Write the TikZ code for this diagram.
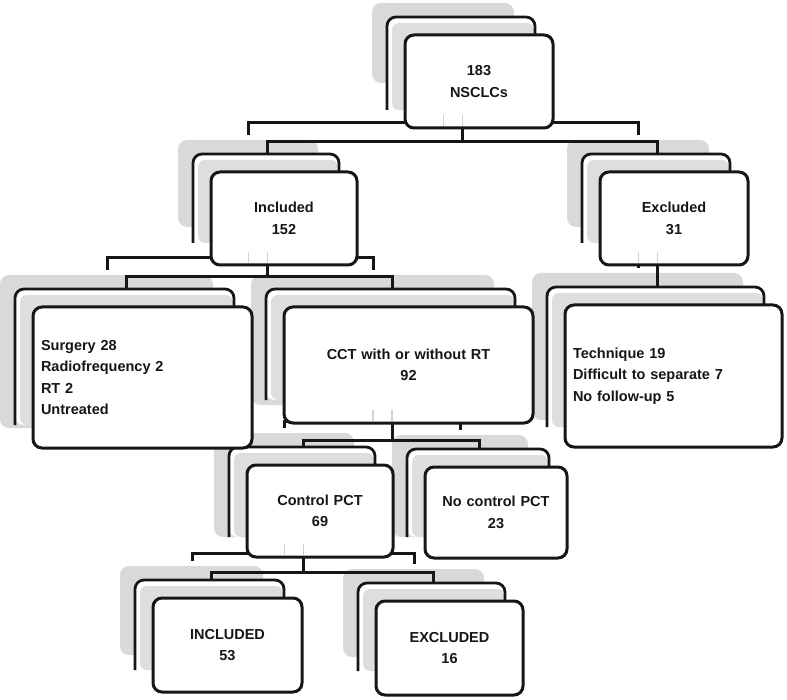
\documentclass[tikz,border=0pt]{standalone}
\usepackage{fontspec}
\setmainfont{Liberation Sans}
\usetikzlibrary{calc}
\pgfdeclarelayer{lay1}
\pgfdeclarelayer{lay2}
\pgfdeclarelayer{conn}
\pgfdeclarelayer{ticks}
\pgfsetlayers{lay1,lay2,conn,main,ticks}
\definecolor{gA}{HTML}{D9D9D9}
\definecolor{gB}{HTML}{DEDEDE}
\definecolor{ink}{HTML}{161616}
\definecolor{tickc}{HTML}{D2D2D2}
\tikzset{
  edge/.style={line width=3pt, draw=ink},
  midline/.style={line width=2.8pt, draw=ink, rounded corners=9pt},
  frontbox/.style={draw=ink, line width=3pt, fill=white, rounded corners=9pt,
    inner xsep=8pt, inner ysep=0pt, outer sep=0pt,
    font=\fontsize{14.5}{21.5}\selectfont\bfseries, text=ink},
  faint/.style={line width=1.6pt, draw=tickc},
}
% #1 name, #2 align, #3 x1, #4 y1, #5 x2, #6 y2, #7 gray bottom, #8 middle end, #9 text
\newcommand{\mystack}[9]{%
  \pgfmathsetmacro{\sw}{#5-#3-16}%
  \pgfmathsetmacro{\sh}{#6-#4}%
  \pgfmathsetmacro{\scx}{(#5+#3)/2}%
  \pgfmathsetmacro{\scy}{(#6+#4)/2}%
  \pgfmathsetmacro{\stc}{(#3-33+#5)/2}%
  \begin{pgfonlayer}{lay1}
    \fill[gA, rounded corners=9pt] (#3-33,#4-32) rectangle (#5-39,#7);
  \end{pgfonlayer}
  \begin{pgfonlayer}{lay2}
    \fill[white, rounded corners=9pt] (#3-18,#4-18) rectangle (#5-18,#8);
    \fill[gB, rounded corners=7pt] (#3-13,#4-12) rectangle (#5-19,#8);
    \draw[midline] (#3-18,#8) -- (#3-18,#4-18) -- (#5-18,#4-18) -- (#5-18,#4+5);
  \end{pgfonlayer}
  \node[frontbox, align=#2, text width=\sw pt, minimum height=\sh pt] (#1) at (\scx,\scy) {#9};
  \coordinate (#1-b) at (\stc,#6);
  \coordinate (#1-t) at (\stc,#4-18);
}
\begin{document}
\begin{tikzpicture}[x=1pt,y=-1pt]
\useasboundingbox (0,0) rectangle (787,700);

\mystack{top}{center}{405}{35}{553}{128}{83}{110}{183\\NSCLCs}
\mystack{inc}{center}{211}{172}{357}{265}{227}{243}{Included\\152}
\mystack{exc}{center}{600}{172}{748}{265}{227}{243}{Excluded\\31}
\mystack{sur}{left}{33}{307}{252}{448}{428}{425}{Surgery 28\\Radiofrequency 2\\RT 2\\Untreated}
\mystack{cct}{center}{284}{307}{533}{423}{405}{400}{CCT with or without RT\\92}
\mystack{tech}{left}{565}{305}{782}{447}{420}{427}{Technique 19\\Difficult to separate 7\\No follow-up 5}
\mystack{ctrl}{center}{247}{465}{393}{557}{537}{537}{Control PCT\\69}
\mystack{noc}{center}{425}{467}{567}{558}{537}{537}{No control PCT\\23}
\mystack{inca}{center}{153}{598}{302}{692}{655}{670}{INCLUDED\\53}
\mystack{exca}{center}{376}{601}{523}{695}{657}{671}{EXCLUDED\\16}

\begin{pgfonlayer}{conn}
  % back copies
  \draw[edge] ([xshift=-19pt,yshift=19pt]top-b) -- ++(0,14) -| ([xshift=-19pt,yshift=19pt]inc-t);
  \draw[edge] ([xshift=-19pt,yshift=19pt]top-b) -- ++(0,14) -| ([xshift=-19pt,yshift=19pt]exc-t);
  \draw[edge] ([xshift=-19pt,yshift=19pt]inc-b) -- ++(0,12) -| ([xshift=-19pt,yshift=19pt]sur-t);
  \draw[edge] ([xshift=-19pt,yshift=19pt]inc-b) -- ++(0,12) -| ([xshift=-19pt,yshift=19pt]cct-t);
  \draw[edge] ([xshift=-19pt]exc-b) -- ([xshift=-19pt,yshift=19pt]exc-b |- tech-t);
  \draw[edge] ([xshift=-19pt,yshift=19pt]cct-b) -- ++(0,17) -| ([xshift=-19pt,yshift=19pt]ctrl-t);
  \draw[edge] ([xshift=-19pt,yshift=19pt]cct-b) -- ++(0,17) -| ([xshift=-19pt,yshift=19pt]noc-t);
  \draw[edge] ([xshift=-19pt,yshift=19pt]ctrl-b) -- ++(0,15) -| ([xshift=-19pt,yshift=19pt]inca-t);
  \draw[edge] ([xshift=-19pt,yshift=19pt]ctrl-b) -- ++(0,15) -| ([xshift=-19pt,yshift=19pt]exca-t);
  % front connectors
  \draw[edge] (top-b) -- ++(0,14) -| (inc-t);
  \draw[edge] (top-b) -- ++(0,14) -| (exc-t);
  \draw[edge] (inc-b) -- ++(0,12) -| (sur-t);
  \draw[edge] (inc-b) -- ++(0,12) -| (cct-t);
  \draw[edge] (exc-b) -- (exc-b |- tech-t);
  \draw[edge] (cct-b) -- ++(0,17) -| (ctrl-t);
  \draw[edge] (cct-b) -- ++(0,17) -| (noc-t);
  \draw[edge] (ctrl-b) -- ++(0,15) -| (inca-t);
  \draw[edge] (ctrl-b) -- ++(0,15) -| (exca-t);
\end{pgfonlayer}

\begin{pgfonlayer}{ticks}
  \foreach \p in {top,inc,exc,cct,ctrl}{
    \draw[faint] ([yshift=2pt]\p-b) -- ++(0,-11);
    \draw[faint] ([xshift=-19pt,yshift=2pt]\p-b) -- ++(0,-11);
  }
\end{pgfonlayer}
\end{tikzpicture}
\end{document}
